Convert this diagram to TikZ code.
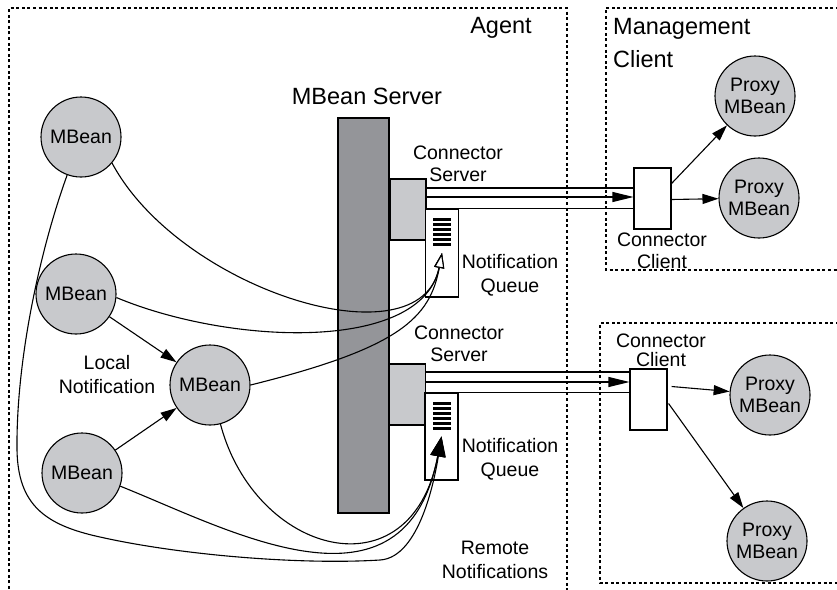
\documentclass[tikz,border=0pt]{standalone}
\usepackage{fontspec}
\setmainfont{Liberation Sans}
\usetikzlibrary{arrows.meta,calc}
\definecolor{beangrey}{RGB}{200,201,204}
\definecolor{servergrey}{RGB}{148,149,153}

\begin{document}
\begin{tikzpicture}[x=1pt,y=-1pt,
  every node/.style={inner sep=0pt, font=\fontsize{19.5}{22}\selectfont},
  title/.style={font=\fontsize{23.5}{28}\selectfont},
  bean/.style={circle, draw, fill=beangrey, minimum size=80pt, line width=1.1pt, align=center},
  frame/.style={line width=1.4pt, dash pattern=on 3pt off 2.6pt},
  cbox/.style={draw, fill=white, line width=1.1pt, minimum width=37pt, minimum height=61pt},
  sbox/.style={draw, fill=beangrey, line width=1.1pt, minimum width=36pt, minimum height=61pt},
  qbox/.style={draw, fill=white, line width=1.1pt, minimum width=33pt, minimum height=88pt},
  wire/.style={line width=1.1pt},
  arr/.style={wire, -{Triangle[length=16pt,width=10pt]}},
  tubearr/.style={wire, -{Triangle[length=21pt,width=10pt]}},
  openarr/.style={wire, -{Triangle[open,fill=white,length=15pt,width=10pt]}},
  fillarr/.style={wire, -{Triangle[length=20pt,width=15pt]}},
]
\useasboundingbox (0,0) rectangle (837,589);
\clip (0,0) rectangle (837,589);

% dotted frames: agent, management client, second client
\draw[frame] (9,600) -- (9,8) -- (567,8) -- (567,600);
\draw[frame] (850,8) -- (606,8) -- (606,270) -- (850,270);
\draw[frame] (850,323) -- (600,323) -- (600,583) -- (850,583);

% MBean server bar
\node[draw, fill=servergrey, line width=1.1pt, minimum width=51pt, minimum height=395pt] (mbs) at (363.5,315.5) {};

% connector servers and notification queues
\node[sbox] (cs1) at (408,209.5) {};
\node[qbox] (qn1) at (442,253) {};
\node[sbox] (cs2) at (407.5,394.5) {};
\node[qbox, minimum height=87pt] (qn2) at (441.5,436.5) {};
\foreach \k in {0,...,5} {
  \fill ($(qn1.center)+(-9,-35.5+5*\k)$) rectangle ++(18,3);
  \fill ($(qn2.center)+(-9,-35+5*\k)$) rectangle ++(18,3);
}

% connector clients
\node[cbox] (cc1) at (652.5,198.5) {};
\node[cbox] (cc2) at (648.5,399.5) {};

% connector tubes
\draw[wire] (cs1.east |- 0,188) -- (cc1.west |- 0,188);
\draw[tubearr] (cs1.east |- 0,197) -- (cc1.west |- 0,197);
\draw[wire] (qn1.north east) -- (cc1.west |- qn1.north);
\draw[wire] (cs2.east |- 0,372) -- (cc2.west |- 0,372);
\draw[tubearr] (cs2.east |- 0,382) -- (cc2.west |- 0,382);
\draw[wire] (qn2.north east) -- (cc2.west |- qn2.north);

% MBeans
\node[bean] (M1) at (81,137) {MBean};
\node[bean] (M2) at (76,294) {MBean};
\node[bean] (M3) at (210,385) {MBean};
\node[bean] (M4) at (82,473) {MBean};

% proxy MBeans
\node[bean] (P1) at (755,96) {Proxy\\MBean};
\node[bean] (P2) at (759,198) {Proxy\\MBean};
\node[bean] (P3) at (770,395) {Proxy\\MBean};
\node[bean] (P4) at (767,541) {Proxy\\MBean};

% local notifications
\draw[arr] (M2) -- (M3);
\draw[arr] (M4) -- (M3);

% listeners of the first queue
\draw[openarr] (M1.-40) .. controls (180,290) and (420,365) .. (qn1.center);
\draw[openarr] (M2.-5) .. controls (230,345) and (422,353) .. (qn1.center);
\draw[openarr] (M3.east) .. controls (400,348) and (430,318) .. (qn1.center);

% listeners of the second queue
\draw[fillarr] (M3.-75) .. controls (255,555) and (411,597) .. (qn2.center);
\draw[fillarr] (M4.-19) .. controls (230,530) and (405,627) .. (qn2.center);
\draw[fillarr] (M1.250) .. controls (40,250) and (16,360) .. (17,450)
  .. controls (18,505) and (45,525) .. (100,537)
  .. controls (180,555) and (300,565) .. (380,560)
  .. controls (420,557.5) and (435,477) .. (qn2.center);

% client side fan-out
\draw[arr] ($(cc1.east)+(0,-15)$) -- (P1);
\draw[arr] ($(cc1.east)+(0,1)$) -- (P2);
\draw[arr] ($(cc2.east)+(4,-13)$) -- (P3);
\draw[arr] ($(cc2.east)+(1,4)$) -- (P4);

% labels
\node[title] at (501,28) {Agent};
\node[title] at (367,96) {MBean Server};
\node[title, align=left, anchor=west] at (613,43) {Management\\[5pt]Client};
\node[align=center] at (458,164) {Connector\\Server};
\node[align=center] at (510,275) {Notification\\[2pt]Queue};
\node[align=center] at (459,344) {Connector\\Server};
\node[align=center] at (510,459) {Notification\\[2pt]Queue};
\node[align=center] at (495,560) {Remote\\[2pt]Notifications};
\node[align=center] at (107,375) {Local\\[2pt]Notification};
\node[align=center] at (662,251) {Connector\\Client};
\node[align=center] at (661,350) {Connector\\[-3pt]Client};
\end{tikzpicture}
\end{document}
